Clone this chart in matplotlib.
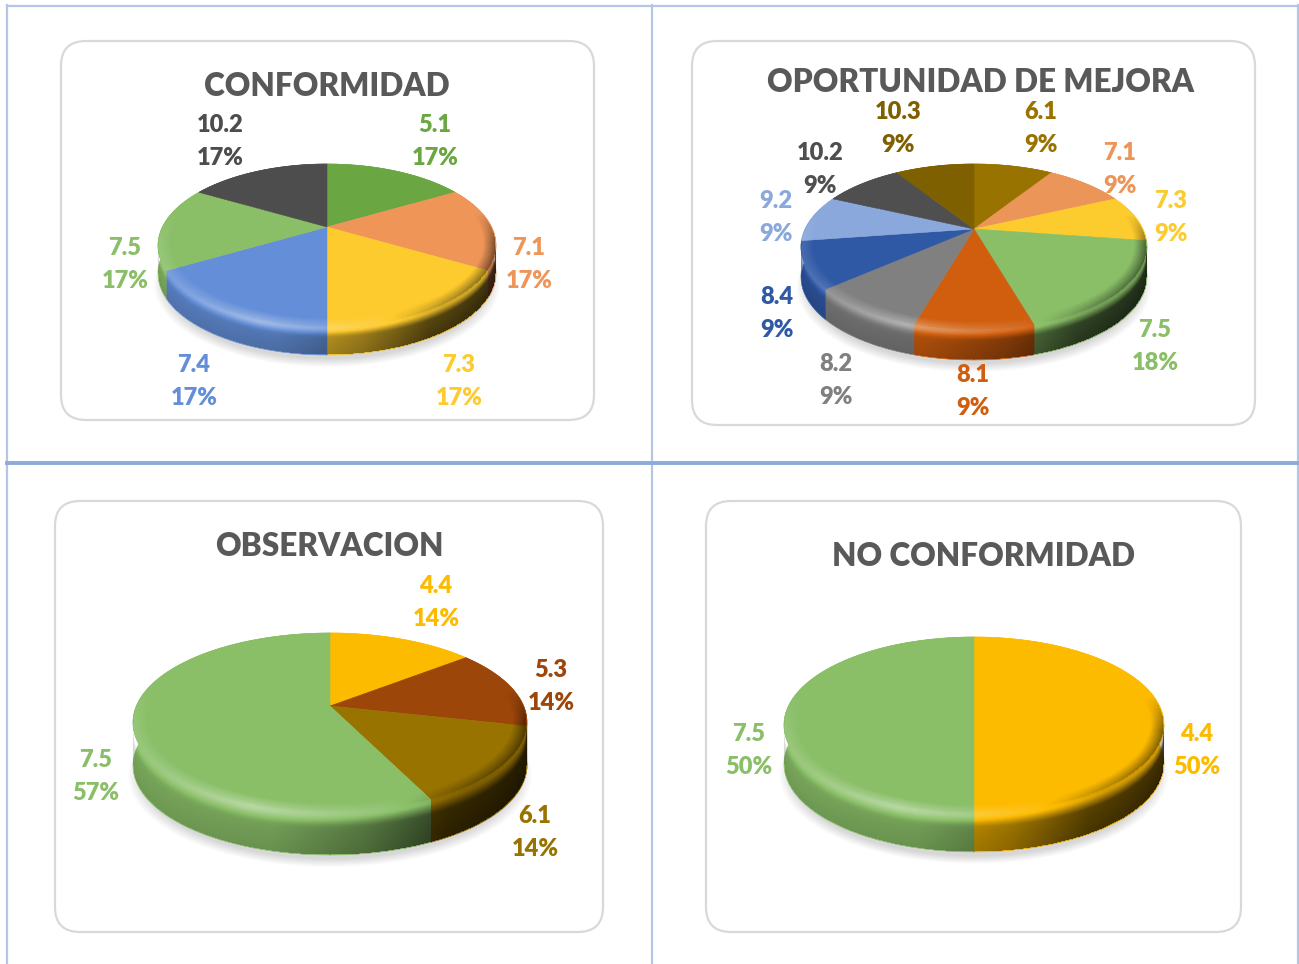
import numpy as np
import matplotlib
matplotlib.use("Agg")
import matplotlib.pyplot as plt
from matplotlib.patches import FancyBboxPatch

plt.rcParams['font.family'] = ['Lato', 'DejaVu Sans']

# data
conf_names = ["5.1", "7.1", "7.3", "7.4", "7.5", "10.2"]
conf_values = [1, 1, 1, 1, 1, 1]
conf_colors = ["#6aa743", "#ef9558", "#fdcb2e", "#648fd8", "#8abf68", "#4d4d4d"]

opor_names = ["6.1", "7.1", "7.3", "7.5", "8.1", "8.2", "8.4", "9.2", "10.2", "10.3"]
opor_values = [1, 1, 1, 2, 1, 1, 1, 1, 1, 1]
opor_colors = ["#997300", "#ec9558", "#fccb2e", "#8abf68", "#d05e0e",
               "#808080", "#2f58a5", "#8aa8dc", "#4f4f4f", "#7f6000"]

obs_names = ["4.4", "5.3", "6.1", "7.5"]
obs_values = [1, 1, 1, 4]
obs_colors = ["#fdbb00", "#9d460a", "#997300", "#8abf68"]

noconf_names = ["4.4", "7.5"]
noconf_values = [1, 1]
noconf_colors = ["#fdbb00", "#8abf68"]

# layout, in pixels of the picture
conf_labels = [(435, 124), (529, 247), (459, 364), (194, 364), (125, 247), (220, 124)]
opor_labels = [(1041, 111), (1120, 152), (1171, 200), (1155, 329), (973, 374),
               (836, 363), (777, 296), (776, 200), (820, 152), (898, 111)]
obs_labels = [(436, 585), (551, 669), (535, 815), (96, 759)]
noconf_labels = [(1197, 733), (749, 733)]


def unproject(X, Y, g):
    u = (X - g["cx"]) / g["rxp"]
    v = (g["apex"] - Y) / g["sy"]
    w = 1 - g["k"] * v
    return u / w, v / w


def project(x, y, g):
    w = 1 + g["k"] * y
    return g["cx"] + g["rxp"] * x / w, g["apex"] - g["sy"] * y / w


def draw_pie(ax, title, title_pos, names, values, colors, labels, box, cx, rx, top, apex, bottom, rim):
    # rounded frame
    x0, y0, x1, y1 = box
    ax.add_patch(FancyBboxPatch((x0 + 25, y0 + 25), x1 - x0 - 50, y1 - y0 - 50,
                                boxstyle="round,pad=25,rounding_size=25",
                                fc="white", ec="#d9d9d9", lw=1.6, zorder=0.5))
    ax.text(title_pos[0], title_pos[1] + 2, title, ha="center", va="center", fontsize=22.7,
            fontweight="heavy", color="#595959", zorder=6)

    k = 1 - 2 * (apex - top) / (bottom - top)
    g = {"cx": cx, "apex": apex, "k": k, "sy": (apex - top) * (1 + k), "rxp": rx * np.sqrt(1 - k * k)}
    depth = rim - bottom

    wedges, _ = ax.pie(values, startangle=90, counterclock=False, frame=True)
    angles = [(w.theta1, w.theta2) for w in wedges]
    for w in wedges:
        w.remove()

    # soft shadow under the pie
    xs = np.arange(cx - rx - 20, cx + rx + 20, 1.0)
    ys = np.arange(top - 5, rim + 25, 1.0)
    X, Y = np.meshgrid(xs, ys)
    ext = (xs[0], xs[-1], ys[-1], ys[0])
    px, py = unproject(X, Y - depth - 9, g)
    r = np.hypot(px, py)
    sh = np.zeros(X.shape + (4,))
    sh[..., 3] = 0.16 * np.clip((1.03 - r) / 0.07, 0, 1)
    ax.imshow(sh, extent=ext, aspect="auto", zorder=1, interpolation="bilinear")

    # rim then top of each slice
    for (t1, t2), col in zip(angles, colors):
        th = np.radians(np.linspace(t1, t2, 120))
        ax_x, ax_y = project(np.cos(th), np.sin(th), g)
        ax.fill(np.r_[ax_x, ax_x[::-1]], np.r_[ax_y, ax_y[::-1] + depth],
                fc=col, ec=col, lw=0.4, zorder=2)
    for (t1, t2), col in zip(angles, colors):
        th = np.radians(np.linspace(t1, t2, 120))
        ax_x, ax_y = project(np.cos(th), np.sin(th), g)
        ax.fill(np.r_[cx, ax_x], np.r_[apex, ax_y], fc=col, ec=col, lw=0.4, zorder=3)

    # bevel and rim shading
    px, py = unproject(X, Y, g)
    r = np.hypot(px, py)
    s = (X - cx) / rx
    yc = (top + bottom) / 2
    ry = (bottom - top) / 2
    yedge = yc + ry * np.sqrt(np.clip(1 - s * s, 0, 1))
    t = (Y - yedge) / depth
    shade = np.zeros(X.shape)
    rim_mask = (np.abs(s) <= 1) & (t >= 0) & (t <= 1) & (r > 1)
    dark = np.interp(s, [-1, -0.3, 0.2, 0.6, 1], [0.10, 0.14, 0.36, 0.62, 0.72]) * np.clip(t / 0.35, 0.25, 1) + 0.10 * t
    light = 0.42 * np.exp(-((t - 0.04) / 0.2) ** 2) * np.interp(s, [-1, -0.4, 0.3, 0.7], [0.3, 1, 0.45, 0])
    shade[rim_mask] = (light - dark)[rim_mask]
    bev = (r <= 1) & (r > 0.93)
    f = (r - 0.93) / 0.07 * np.clip((0.2 - py) / 0.4, 0, 1)
    tone = np.interp(s, [-1, -0.4, 0.3, 0.7, 1], [0.12, 0.32, 0.08, -0.3, -0.5])
    shade[bev] = (f * tone)[bev]
    img = np.zeros(X.shape + (4,))
    img[..., :3] = (shade > 0)[..., None]
    img[..., 3] = np.abs(shade)
    ax.imshow(img, extent=ext, aspect="auto", zorder=4, interpolation="bilinear")

    # labels
    for name, val, col, (lx, ly) in zip(names, values, colors, labels):
        pct = "%d%%" % round(100 * val / sum(values))
        ax.text(lx, ly + 1, name, ha="center", va="center", fontsize=17, fontweight="heavy", color=col, zorder=6)
        ax.text(lx, ly + 34, pct, ha="center", va="center", fontsize=17, fontweight="heavy", color=col, zorder=6)


fig = plt.figure(figsize=(12.99, 9.64), dpi=100)
ax = fig.add_axes([0, 0, 1, 1])

# table lines behind the charts
line_col = "#b4c6e7"
ax.plot([7, 1298], [5.5, 5.5], color=line_col, lw=1.6, zorder=0)
ax.plot([7, 7], [5, 964], color=line_col, lw=1.6, zorder=0)
ax.plot([1298, 1298], [5, 964], color=line_col, lw=1.6, zorder=0)
ax.plot([652.5, 652.5], [5, 964], color=line_col, lw=1.6, zorder=0)
ax.plot([7, 1298], [462.5, 462.5], color="#8eaadb", lw=2.8, zorder=0)

draw_pie(ax, "CONFORMIDAD", (327, 85), conf_names, conf_values, conf_colors, conf_labels,
         (61, 41, 594, 420), 327, 169, 164, 227, 327, 355)
draw_pie(ax, "OPORTUNIDAD DE MEJORA", (981, 80), opor_names, opor_values, opor_colors, opor_labels,
         (692, 41, 1255, 425), 974, 173, 164, 229, 330, 360)
draw_pie(ax, "OBSERVACION", (329, 545), obs_names, obs_values, obs_colors, obs_labels,
         (55, 501, 603, 932), 330, 197, 633, 706, 812, 855)
draw_pie(ax, "NO CONFORMIDAD", (984, 554), noconf_names, noconf_values, noconf_colors, noconf_labels,
         (706, 501, 1241, 932), 974, 190, 637, 712, 813, 852)

ax.set_xlim(0, 1299)
ax.set_ylim(964, 0)
ax.set_aspect("auto")
ax.axis("off")
fig.savefig("out.png", dpi=100)
